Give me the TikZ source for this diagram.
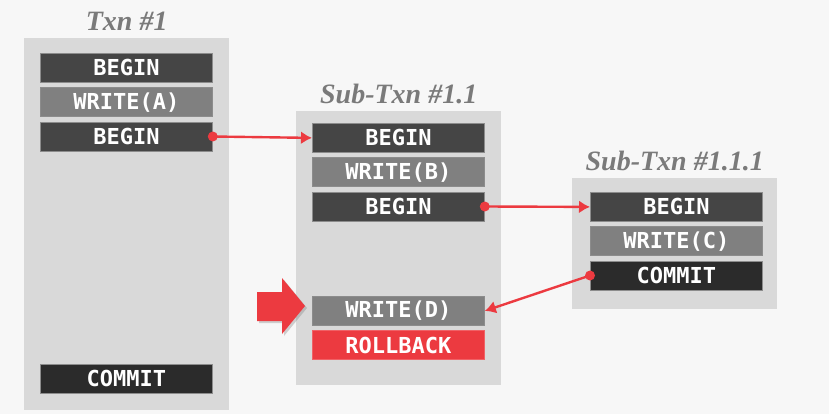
\documentclass[tikz,border=0pt]{standalone}
\usepackage{fontspec}
\newfontfamily\opfont{DejaVu Sans Mono}
\newfontfamily\titlefont{Liberation Serif}
\usetikzlibrary{positioning,arrows.meta,shadows}
\definecolor{pagegray}{HTML}{F7F7F7}
\definecolor{panelgray}{HTML}{D9D9D9}
\definecolor{opdark}{HTML}{454545}
\definecolor{opwrite}{HTML}{808080}
\definecolor{opcommit}{HTML}{2B2B2B}
\definecolor{opborder}{HTML}{8C8C8C}
\definecolor{linkred}{HTML}{EC3A40}
\definecolor{titlegray}{HTML}{7A7A7A}

\begin{document}
\begin{tikzpicture}[x=1pt,y=-1pt,
panel/.style={
fill=panelgray,
inner sep=0pt,
anchor=north west},
op/.style={
draw=opborder,
line width=0.8pt,
text=white,
minimum width=172pt,
minimum height=29pt,
inner sep=0pt,
font=\opfont\bfseries\fontsize{22}{22}\selectfont},
title/.style={
text=titlegray,
inner sep=0pt,
font=\titlefont\bfseries\itshape\fontsize{28}{28}\selectfont},
link/.style={
draw=linkred,
line width=2.4pt,
-{Latex[length=11pt,width=13pt]}},
node distance=4.5pt]
\useasboundingbox[fill=pagegray] (0,0) rectangle (829,414);

% the three transactions, parent on the left
\node[panel,minimum width=205pt,minimum height=372pt](txn) at (24,38) {};
\node[panel,minimum width=205pt,minimum height=274pt](sub) at (296,111) {};
\node[panel,minimum width=205pt,minimum height=131pt](subsub) at (572,178) {};

\node[title,above=7pt of txn](t1){Txn \#1};
\node[title,above=7pt of sub](t2){Sub-Txn \#1.1};
\node[title,above=7pt of subsub](t3){Sub-Txn \#1.1.1};

\node[op,fill=opdark,anchor=north west](a1) at (40,53) {BEGIN};
\node[op,fill=opwrite,below=of a1](a2){WRITE(A)};
\node[op,fill=opdark,below=of a2](a3){BEGIN};
\node[op,fill=opcommit,anchor=north west](a4) at (40,364) {COMMIT};

\node[op,fill=opdark,anchor=north west](b1) at (312,123) {BEGIN};
\node[op,fill=opwrite,below=of b1](b2){WRITE(B)};
\node[op,fill=opdark,below=of b2](b3){BEGIN};
\node[op,fill=opwrite,anchor=north west](b4) at (312,296) {WRITE(D)};
\node[op,fill=linkred,draw=linkred!80!white,below=of b4](b5){ROLLBACK};

\node[op,fill=opdark,anchor=north west](c1) at (590,192) {BEGIN};
\node[op,fill=opwrite,below=of c1](c2){WRITE(C)};
\node[op,fill=opcommit,below=of c2](c3){COMMIT};

\draw[link] (a3.east) -- (b1.west);
\fill[linkred] (a3.east) circle (5pt);
\draw[link] (b3.east) -- (c1.west);
\fill[linkred] (b3.east) circle (5pt);
\draw[link] (c3.west) -- (b4.east);
\fill[linkred] (c3.west) circle (5pt);

% big arrow pointing at the write that gets undone
\fill[linkred,drop shadow={shadow xshift=2pt,shadow yshift=-2pt,opacity=0.35}]
  (257,292) -- (282,292) -- (282,278) -- (305,306) -- (282,334) -- (282,321) -- (257,321) -- cycle;
\end{tikzpicture}
\end{document}
